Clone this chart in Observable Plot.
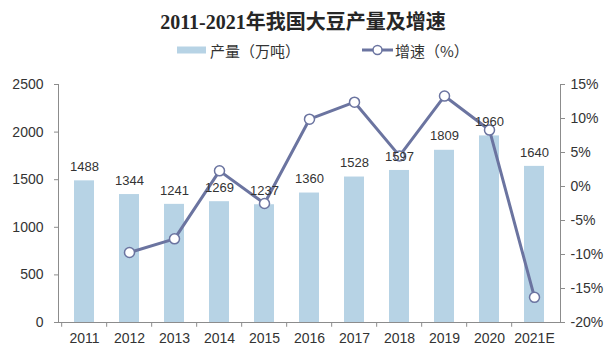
<!DOCTYPE html>
<html>
<head>
<meta charset="utf-8">
<script src="https://cdn.jsdelivr.net/npm/d3@7"></script>
<script src="https://cdn.jsdelivr.net/npm/@observablehq/plot@0.6"></script>
<style>
  html, body { margin: 0; padding: 0; background: #fff; }
  #wrap { width: 606px; height: 352px; position: relative; font-family: "Liberation Sans", Arial, "Noto Sans CJK SC", sans-serif; }
  #title { position: absolute; left: 0; top: 8px; width: 606px; text-align: center; font-family: "Liberation Serif", "Noto Sans CJK SC", serif; font-weight: bold; font-size: 20px; color: #262626; line-height: 28px; }
  #legend { position: absolute; left: 0; top: 40px; width: 606px; height: 20px; font-family: "Noto Sans CJK SC", sans-serif; font-size: 15px; color: #333; }
  .lg { position: absolute; top: 0; display: flex; align-items: center; height: 20px; }
  #chart { position: absolute; left: 0; top: 70px; }
</style>
</head>
<body>
<div id="wrap">
  <div id="title">2011-2021年我国大豆产量及增速</div>
  <div id="legend">
    <div class="lg" style="left:177px"><svg width="30" height="10"><rect x="0" y="1.5" width="29" height="7" fill="#B7D3E5"></rect></svg><span style="margin-left:3px">产量（万吨）</span></div>
    <div class="lg" style="left:362px"><svg width="32" height="12"><line x1="0" y1="6" x2="31" y2="6" stroke="#6B74A0" stroke-width="3"></line><circle cx="15.5" cy="6" r="4.5" fill="#fff" stroke="#6B74A0" stroke-width="1.5"></circle></svg><span style="margin-left:1px">增速（%）</span></div>
  </div>
  <div id="chart"></div>
</div>
<script>
const years = ["2011","2012","2013","2014","2015","2016","2017","2018","2019","2020","2021E"];
const output = [1488, 1344, 1241, 1269, 1237, 1360, 1528, 1597, 1809, 1960, 1640];
const growthYears = ["2012","2013","2014","2015","2016","2017","2018","2019","2020","2021E"];
const growth = [-9.7, -7.7, 2.3, -2.5, 9.9, 12.4, 4.5, 13.3, 8.3, -16.3];
const leftTicks = [0, 500, 1000, 1500, 2000, 2500];
const rightTicks = [-20, -15, -10, -5, 0, 5, 10, 15];

const W = 606, H = 282, mL = 58, mR = 46, mT = 14, mB = 30;
const yMax = 2500, gMin = -20, gMax = 15;
const toLeft = g => (g - gMin) / (gMax - gMin) * yMax;

const bars = years.map((y, i) => ({year: y, value: output[i]}));
const line = growthYears.map((y, i) => ({year: y, g: growth[i], v: toLeft(growth[i])}));
const step = (W - mL - mR) / years.length;
const axisColor = "#8c8c8c";
const txt = "#333";

const chart = Plot.plot({
  width: W, height: H,
  marginLeft: mL, marginRight: mR, marginTop: mT, marginBottom: mB,
  style: {fontFamily: "'Liberation Sans', Arial, sans-serif", fontSize: "13px", color: txt, background: "#fff"},
  x: {domain: years, paddingInner: 0.56, paddingOuter: 0.28, label: null},
  y: {domain: [0, yMax], label: null},
  marks: [
    Plot.barY(bars, {x: "year", y: "value", fill: "#B7D3E5"}),
    Plot.lineY(line, {x: "year", y: "v", stroke: "#6B74A0", strokeWidth: 3}),
    Plot.dot(line, {x: "year", y: "v", r: 5, fill: "#fff", stroke: "#6B74A0", strokeWidth: 1.5}),
    Plot.text(bars, {x: "year", y: "value", text: d => String(d.value), dy: -14, fill: txt, fontSize: 13}),
    Plot.axisY(leftTicks, {anchor: "left", tickSize: 4, tickPadding: 11, stroke: axisColor, fill: txt, fontSize: 14, label: null, tickFormat: d => String(d)}),
    Plot.axisY(rightTicks.map(toLeft), {anchor: "right", tickSize: 4, tickPadding: 6, stroke: axisColor, fill: txt, fontSize: 14, label: null, tickFormat: v => Math.round(v / yMax * (gMax - gMin) + gMin) + "%"}),
    Plot.axisX({tickSize: 0, tickPadding: 11, fill: txt, fontSize: 14, label: null}),
    Plot.ruleX(years, {x: d => d, y1: 0, y2: -50, dx: -step / 2, stroke: axisColor}),
    Plot.frame({anchor: "left", stroke: axisColor}),
    Plot.frame({anchor: "right", stroke: axisColor}),
    Plot.frame({anchor: "bottom", stroke: axisColor})
  ]
});
document.getElementById("chart").appendChild(chart);
</script>
</body>
</html>
